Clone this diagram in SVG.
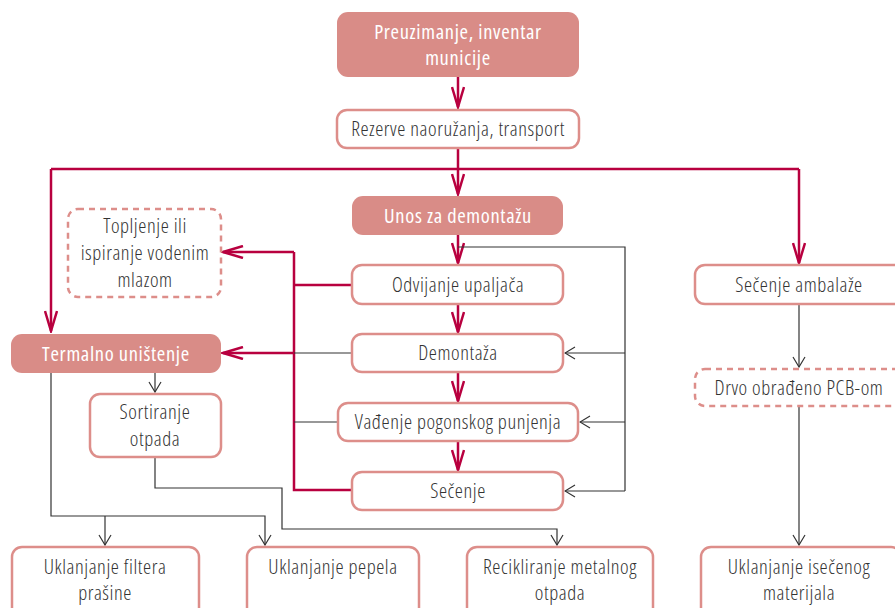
<svg xmlns="http://www.w3.org/2000/svg" width="895" height="608" viewBox="0 0 895 608">
<style>
.fill{fill:#D98C87;stroke:none}
.box{fill:#fff;stroke:#DD8E8A;stroke-width:2.5}
.dash{fill:#fff;stroke:#DD8E8A;stroke-width:2.5;stroke-dasharray:6 5}
.t{font-family:"Open Sans","Liberation Sans",sans-serif;font-stretch:75%;font-weight:300;font-size:20.5px;letter-spacing:0.55px;fill:#333;text-anchor:middle}
.tw{font-family:"Open Sans","Liberation Sans",sans-serif;font-stretch:75%;font-weight:400;font-size:20.5px;letter-spacing:0.65px;fill:#fff;text-anchor:middle}
.red{fill:none;stroke:#B8003F;stroke-width:2.5}
.blk{fill:none;stroke:#333;stroke-width:1.2}
</style>
<defs>
<marker id="ar" viewBox="0 0 24 14" refX="22" refY="7" markerWidth="24" markerHeight="14" markerUnits="userSpaceOnUse" orient="auto">
<path d="M2,1 L22,7 L2,13" fill="none" stroke="#B8003F" stroke-width="2.5"/>
</marker>
<marker id="ab" viewBox="0 0 12 14" refX="11" refY="7" markerWidth="12" markerHeight="14" markerUnits="userSpaceOnUse" orient="auto">
<path d="M1,1 L11,7 L1,13" fill="none" stroke="#333" stroke-width="1.2"/>
</marker>
</defs>
<g id="connectors">
<path class="red" d="M458,77 V107" marker-end="url(#ar)"/>
<path class="red" d="M458,148 V194" marker-end="url(#ar)"/>
<path class="red" d="M51,169 H799"/>
<path class="red" d="M51,169 V331" marker-end="url(#ar)"/>
<path class="red" d="M799,169 V263" marker-end="url(#ar)"/>
<path class="red" d="M458,235 V263" marker-end="url(#ar)"/>
<path class="red" d="M458,304 V332" marker-end="url(#ar)"/>
<path class="red" d="M458,372 V401" marker-end="url(#ar)"/>
<path class="red" d="M458,441 V470" marker-end="url(#ar)"/>
<path class="blk" d="M458,247 H625 V491"/>
<path class="blk" d="M625,353 H565" marker-end="url(#ab)"/>
<path class="blk" d="M625,422 H580" marker-end="url(#ab)"/>
<path class="blk" d="M625,491 H565" marker-end="url(#ab)"/>
<path class="red" d="M352,285 H294"/>
<path class="red" d="M294,252 V490 H352"/>
<path class="red" d="M294,252 H223" marker-end="url(#ar)"/>
<path class="blk" d="M352,353 H294"/>
<path class="red" d="M294,353 H223" marker-end="url(#ar)"/>
<path class="blk" d="M338,422 H294"/>
<path class="blk" d="M155,373 V392" marker-end="url(#ab)"/>
<path class="blk" d="M51,373 V516 H265 V545" marker-end="url(#ab)"/>
<path class="blk" d="M105,516 V545" marker-end="url(#ab)"/>
<path class="blk" d="M155,457 V488 H282 V529 H557 V545" marker-end="url(#ab)"/>
<path class="blk" d="M799,304 V367" marker-end="url(#ab)"/>
<path class="blk" d="M799,406 V545" marker-end="url(#ab)"/>
</g>
<g id="preuzimanje"><rect class="fill" x="337" y="12" width="242" height="65" rx="11"/><text class="tw" x="458" y="39">Preuzimanje, inventar</text><text class="tw" x="458" y="65">municije</text></g>
<g id="rezerve"><rect class="box" x="337" y="110" width="242" height="38" rx="10"/><text class="t" x="458" y="136">Rezerve naoružanja, transport</text></g>
<g id="unos"><rect class="fill" x="352" y="196" width="211" height="39" rx="11"/><text class="tw" x="458" y="223">Unos za demontažu</text></g>
<g id="odvijanje"><rect class="box" x="352" y="265" width="211" height="39" rx="10"/><text class="t" x="458" y="292">Odvijanje upaljača</text></g>
<g id="demontaza"><rect class="box" x="352" y="334" width="211" height="38" rx="10"/><text class="t" x="458" y="360">Demontaža</text></g>
<g id="vadjenje"><rect class="box" x="338" y="403" width="240" height="38" rx="10"/><text class="t" x="458" y="429">Vađenje pogonskog punjenja</text></g>
<g id="secenje"><rect class="box" x="352" y="472" width="211" height="38" rx="10"/><text class="t" x="458" y="498">Sečenje</text></g>
<g id="topljenje"><rect class="dash" x="68" y="209" width="153" height="88" rx="10"/><text class="t" x="145" y="233">Topljenje ili</text><text class="t" x="145" y="260">ispiranje vodenim</text><text class="t" x="145" y="287">mlazom</text></g>
<g id="termalno"><rect class="fill" x="11" y="334" width="210" height="39" rx="11"/><text class="tw" x="116" y="361">Termalno uništenje</text></g>
<g id="sortiranje"><rect class="box" x="90" y="394" width="131" height="63" rx="10"/><text class="t" x="155" y="419">Sortiranje</text><text class="t" x="155" y="446">otpada</text></g>
<g id="ambalaza"><rect class="box" x="695" y="265" width="210" height="39" rx="10"/><text class="t" x="799" y="292">Sečenje ambalaže</text></g>
<g id="drvo"><rect class="dash" x="695" y="369" width="210" height="37" rx="10"/><text class="t" x="799" y="395">Drvo obrađeno PCB-om</text></g>
<g id="filter"><rect class="box" x="12" y="547" width="187" height="75" rx="10"/><text class="t" x="105" y="574">Uklanjanje filtera</text><text class="t" x="105" y="600">prašine</text></g>
<g id="pepeo"><rect class="box" x="247" y="547" width="172" height="75" rx="10"/><text class="t" x="333" y="574">Uklanjanje pepela</text></g>
<g id="recikliranje"><rect class="box" x="467" y="547" width="186" height="75" rx="10"/><text class="t" x="560" y="574">Recikliranje metalnog</text><text class="t" x="560" y="600">otpada</text></g>
<g id="isecenog"><rect class="box" x="701" y="547" width="200" height="75" rx="10"/><text class="t" x="799" y="574">Uklanjanje isečenog</text><text class="t" x="799" y="600">materijala</text></g>
</svg>
